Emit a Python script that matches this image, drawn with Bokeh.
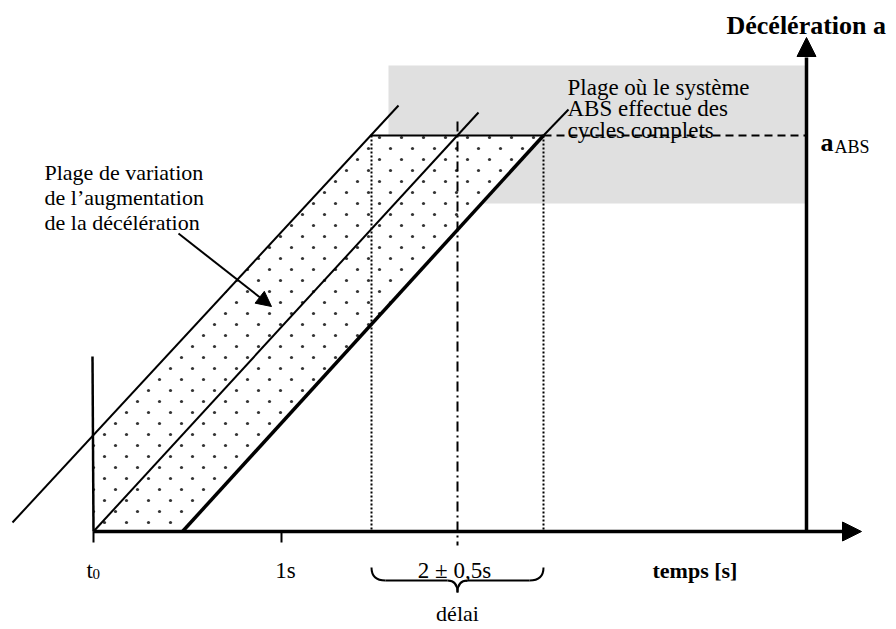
import base64
from bokeh.plotting import figure
from bokeh.models import Range1d, Arrow, NormalHead, ImageURLTexture
from bokeh.core.properties import value
from bokeh.embed import file_html
from bokeh.resources import INLINE

# ---------------- diagram data (image pixel coordinates, y downward) ----------------
time_axis_x = [93, 842]          # start of time axis, base of arrow head
time_axis_tip = 861
time_axis_y = 531
decel_axis_x = 806
decel_axis_y = [531, 57]         # bottom, base of arrow head
decel_axis_tip = 37

tick_x = [93, 281]               # t0, 1s
tick_len = 11

band_left_x = [12, 398]
band_left_y = [522, 105]
band_mid_x = [93, 478]
band_mid_y = [531, 112]
band_right_x = [182, 543]
band_right_y = [531, 135]
band_right_ext_x = [543, 568]
band_right_ext_y = [135, 109]
t0_line_x = [93, 92]
t0_line_y = [531, 356]

zone_x = [93, 93, 370, 543, 182]
zone_y = [531, 434, 135, 135, 531]

a_abs_level = 135
top_edge_x = [370, 543]
dashed_x = [543, 806]

abs_zone_left, abs_zone_right = 388, 806
abs_zone_top, abs_zone_bottom = 65, 203

delay_x = [371, 543]
delay_mid_x = 457
delay_mid_y = [121, 545]

brace_left, brace_right, brace_mid = 371, 543, 457
brace_top, brace_bar, brace_tip = 567, 580, 592

pointer_start = (178, 233)
pointer_end = (271, 306)

# texts
title_text = "Décélération a"
left_note = ["Plage de variation", "de l\u2019augmentation", "de la décélération"]
left_note_x = 44
left_note_base = [172, 197, 222]
right_note = ["Plage où le système", "ABS effectue des", "cycles complets"]
right_note_x = 567
right_note_base = [87, 108, 130]
bottom_labels = ["1s", "2 \u00b1 0,5s"]
bottom_labels_x = [285, 454]
bottom_base = 570

SERIF = value("Liberation Serif")

W, H = 896, 629
p = figure(width=W, height=H, x_range=Range1d(0, W), y_range=Range1d(H, 0),
           output_backend="svg", toolbar_location=None, min_border=0)
p.axis.visible = False
p.grid.visible = False
p.outline_line_color = None
p.background_fill_color = "white"
p.border_fill_color = "white"

# grey ABS zone
p.quad(left=[abs_zone_left], right=[abs_zone_right], top=[abs_zone_top], bottom=[abs_zone_bottom],
       fill_color="#e0e0e0", line_color=None)

# dotted band (staggered small dots as an image texture)
tile_svg = ("<svg xmlns='http://www.w3.org/2000/svg' width='22' height='22'>"
            "<rect width='22' height='22' fill='white'/>"
            "<circle cx='5.5' cy='5.5' r='1.6' fill='#333333'/>"
            "<circle cx='16.5' cy='16.5' r='1.6' fill='#333333'/></svg>")
dots = ImageURLTexture(url="data:image/svg+xml;base64," + base64.b64encode(tile_svg.encode()).decode())
p.patch(zone_x, zone_y, fill_color="white", line_color=None,
        hatch_pattern="dots", hatch_extra={"dots": dots}, hatch_scale=22, hatch_color="#333333")

# band lines
p.line(band_left_x, band_left_y, line_color="black", line_width=2)
p.line(band_mid_x, band_mid_y, line_color="black", line_width=2)
p.line(band_right_x, band_right_y, line_color="black", line_width=3.5)
p.line(band_right_ext_x, band_right_ext_y, line_color="black", line_width=2)
p.line(t0_line_x, t0_line_y, line_color="black", line_width=2.5)
p.line(top_edge_x, [a_abs_level, a_abs_level], line_color="black", line_width=2)
p.line(dashed_x, [a_abs_level, a_abs_level], line_color="black", line_width=2, line_dash="8 5")

# delay lines
p.segment(x0=delay_x, y0=[a_abs_level] * 2, x1=delay_x, y1=[time_axis_y] * 2,
          line_color="black", line_width=2, line_dash="2 2")
p.line([delay_mid_x, delay_mid_x], delay_mid_y, line_color="black", line_width=2,
       line_dash="10 4 2 4")

# axes
p.line(time_axis_x, [time_axis_y] * 2, line_color="black", line_width=3.5)
p.add_layout(Arrow(x_start=time_axis_x[1] - 1, y_start=time_axis_y, x_end=time_axis_tip, y_end=time_axis_y,
                   line_alpha=0, end=NormalHead(size=19, fill_color="black", line_color="black")))
p.line([decel_axis_x] * 2, decel_axis_y, line_color="black", line_width=3.5)
p.add_layout(Arrow(x_start=decel_axis_x, y_start=decel_axis_y[1] + 1, x_end=decel_axis_x, y_end=decel_axis_tip,
                   line_alpha=0, end=NormalHead(size=19, fill_color="black", line_color="black")))
p.segment(x0=tick_x, y0=[time_axis_y] * 2, x1=tick_x, y1=[time_axis_y + tick_len] * 2,
          line_color="black", line_width=2)

# pointer arrow
p.add_layout(Arrow(x_start=pointer_start[0], y_start=pointer_start[1], x_end=pointer_end[0], y_end=pointer_end[1],
                   line_width=2, end=NormalHead(size=15, fill_color="black", line_color="black")))

# brace
bl = brace_left + 14
br = brace_right - 14
p.quadratic(x0=[brace_left, brace_mid - 10, brace_mid + 10, brace_right],
            y0=[brace_top, brace_bar, brace_bar, brace_top],
            x1=[bl, brace_mid, brace_mid, br],
            y1=[brace_bar, brace_tip, brace_tip, brace_bar],
            cx=[brace_left, brace_mid, brace_mid, brace_right],
            cy=[brace_bar, brace_bar, brace_bar, brace_bar],
            line_color="black", line_width=2)
p.segment(x0=[bl, brace_mid + 10], y0=[brace_bar] * 2, x1=[brace_mid - 10, br], y1=[brace_bar] * 2,
          line_color="black", line_width=2)

# texts
p.text(x=[726], y=[25], text=[title_text], text_font=SERIF, text_font_size="26px",
       text_font_style="bold", text_baseline="alphabetic", text_align="left", text_color="black")
p.text(x=[820], y=[142], text=["a"], text_font=SERIF, text_font_size="26px",
       text_font_style="bold", text_baseline="alphabetic", text_color="black")
p.text(x=[834], y=[146], text=["ABS"], text_font=SERIF, text_font_size="18px",
       text_baseline="alphabetic", text_color="black")
p.text(x=[left_note_x] * 3, y=left_note_base, text=left_note, text_font=SERIF, text_font_size="22px",
       text_baseline="alphabetic", text_color="black")
p.text(x=[right_note_x] * 3, y=right_note_base, text=right_note, text_font=SERIF, text_font_size="23px",
       text_baseline="alphabetic", text_color="black")
p.text(x=bottom_labels_x, y=[bottom_base] * 2, text=bottom_labels, text_font=SERIF, text_font_size="23px",
       text_baseline="alphabetic", text_align="center", text_color="black")
p.text(x=[86], y=[bottom_base], text=["t"], text_font=SERIF, text_font_size="23px",
       text_baseline="alphabetic", text_color="black")
p.text(x=[92], y=[bottom_base + 3], text=["0"], text_font=SERIF, text_font_size="15px",
       text_baseline="alphabetic", text_color="black")
p.text(x=[652], y=[bottom_base], text=["temps [s]"], text_font=SERIF, text_font_size="22px",
       text_font_style="bold", text_baseline="alphabetic", text_color="black")
p.text(x=[brace_mid], y=[613], text=["délai"], text_font=SERIF, text_font_size="22px",
       text_baseline="alphabetic", text_align="center", text_color="black")

open("out.html", "w").write(file_html(p, INLINE))
